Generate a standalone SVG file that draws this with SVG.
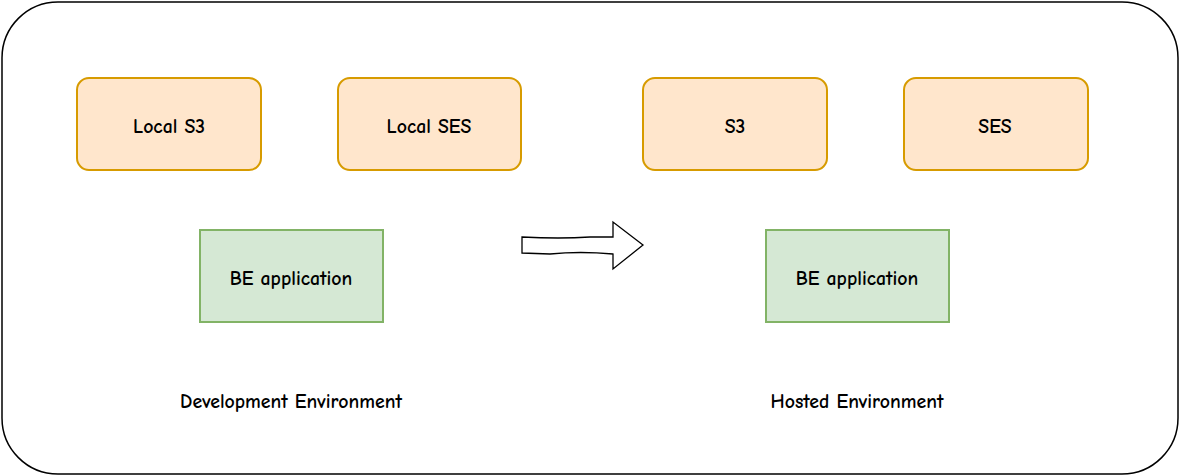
<svg xmlns="http://www.w3.org/2000/svg" width="1180" height="476" viewBox="0 0 1180 476">
<style>
.frame{fill:#ffffff;stroke:#000000;stroke-width:1.5}
.svc{fill:#ffe6cc;stroke:#d79b00;stroke-width:2}
.app{fill:#d5e8d4;stroke:#82b366;stroke-width:2}
.lbl{font-family:"Comic Neue","Noto Sans","DejaVu Sans",sans-serif;font-size:19.8px;font-weight:bold;fill:#000000;text-anchor:middle;dominant-baseline:central}
.arr{fill:#ffffff;stroke:#000000;stroke-width:1.3;stroke-linejoin:miter}
</style>
<rect width="1180" height="476" fill="#ffffff"/>
<g id="frame">
<rect class="frame" x="2" y="2" width="1176" height="472" rx="56" ry="56"/>
</g>
<g id="local-s3">
<rect class="svc" x="77" y="78" width="184" height="92" rx="12" ry="12"/>
<text class="lbl" x="169" y="126">Local S3</text>
</g>
<g id="local-ses">
<rect class="svc" x="338" y="78" width="183" height="92" rx="12" ry="12"/>
<text class="lbl" x="429" y="126">Local SES</text>
</g>
<g id="s3">
<rect class="svc" x="643" y="78" width="184" height="92" rx="12" ry="12"/>
<text class="lbl" x="735" y="126">S3</text>
</g>
<g id="ses">
<rect class="svc" x="904" y="78" width="184" height="92" rx="12" ry="12"/>
<text class="lbl" x="995" y="126">SES</text>
</g>
<g id="be-dev">
<rect class="app" x="200" y="230" width="183" height="92"/>
<text class="lbl" x="291" y="278">BE application</text>
</g>
<g id="be-hosted">
<rect class="app" x="766" y="230" width="183" height="92"/>
<text class="lbl" x="857" y="278">BE application</text>
</g>
<g id="connectors">
<path class="arr" d="M522,237 Q560,239 590,237 L613,237 L613,222 L643,245 L613,269 L613,254 Q580,251 550,254 L522,253 Z"/>
</g>
<g id="env-labels">
<text class="lbl" x="291" y="401">Development Environment</text>
<text class="lbl" x="857" y="401">Hosted Environment</text>
</g>
</svg>
